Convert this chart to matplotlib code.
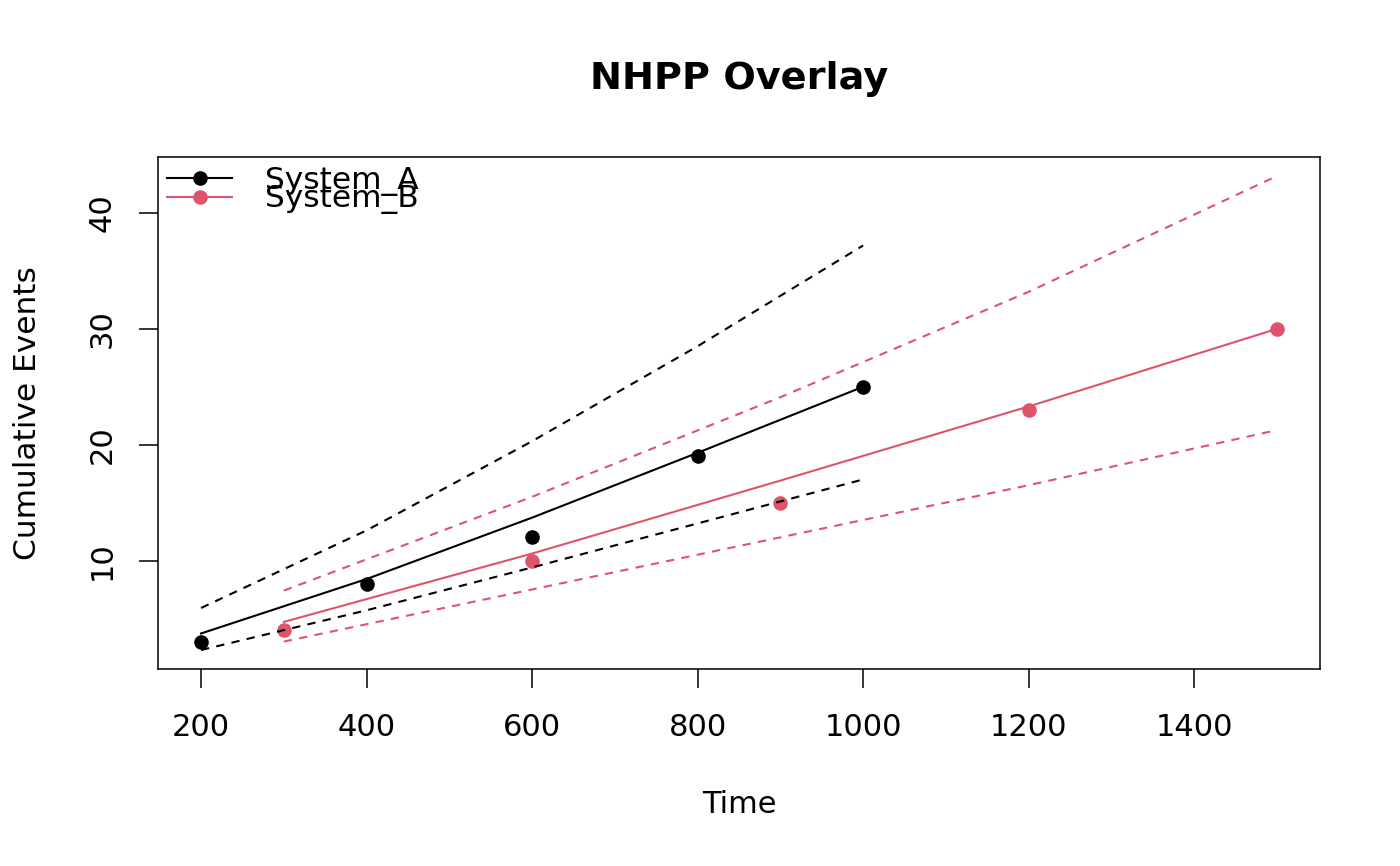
import matplotlib
matplotlib.use('Agg')
import matplotlib.pyplot as plt

# cumulative events observed per system, with NHPP fit and bounds
time_a = [200, 400, 600, 800, 1000]
events_a = [3, 8, 12, 19, 25]
fit_a = [3.7, 8.4, 13.7, 19.3, 25.0]
upper_a = [5.9, 12.6, 20.3, 28.5, 37.2]
lower_a = [2.27, 5.7, 9.4, 13.2, 17.0]

time_b = [300, 600, 900, 1200, 1500]
events_b = [4, 10, 15, 23, 30]
fit_b = [4.7, 10.6, 16.9, 23.3, 30.0]
upper_b = [7.4, 15.5, 24.1, 33.2, 43.2]
lower_b = [3.0, 7.5, 12.0, 16.5, 21.26]

labels = ['System_A', 'System_B']
colors = ['black', '#DF536B']

plt.rcParams['font.family'] = ['DejaVu Sans']

fig = plt.figure(figsize=(14, 8.66), dpi=100)
ax = fig.add_axes([158 / 1400, 1 - 669 / 866, 1162 / 1400, 512 / 866])

systems = [
    (time_a, events_a, fit_a, upper_a, lower_a),
    (time_b, events_b, fit_b, upper_b, lower_b),
]

# points first, then the fitted curves and bounds on top
for (t, ev, _, _, _), col in zip(systems, colors):
    ax.plot(t, ev, 'o', color=col, ms=10.5, mec='none', zorder=2)

handles = []
for (t, ev, fit, up, lo), col, lab in zip(systems, colors, labels):
    ax.plot(t, fit, '-', color=col, lw=1.5, zorder=3)
    ax.plot(t, up, '--', color=col, lw=1.5, dashes=(4, 3.5), zorder=3)
    ax.plot(t, lo, '--', color=col, lw=1.5, dashes=(4, 3.5), zorder=3)
    h, = ax.plot([], [], '-o', color=col, lw=1.5, ms=10.5, mec='none', label=lab)
    handles.append(h)

ax.margins(x=0.04, y=0.04)
ax.set_xticks([200, 400, 600, 800, 1000, 1200, 1400])
ax.set_yticks([10, 20, 30, 40])

for sp in ax.spines.values():
    sp.set_linewidth(1.1)
ax.tick_params(direction='out', length=14, width=1.1, labelsize=22)
ax.tick_params(axis='x', pad=18)
ax.tick_params(axis='y', pad=16)
for lbl in ax.get_yticklabels():
    lbl.set_rotation(90)
    lbl.set_va('center')

ax.set_xlabel('Time', fontsize=22)
ax.xaxis.set_label_coords(0.5, (669 - 790) / 512)
ax.set_ylabel('Cumulative Events', fontsize=22.5)
ax.yaxis.set_label_coords((42 - 158) / 1162, 0.5)

ax.set_title('NHPP Overlay', fontsize=27.5, fontweight='bold', pad=49)

ax.legend(handles=handles, loc='upper left', bbox_to_anchor=(0, 1),
          frameon=False, handlelength=2.08, handletextpad=1.05,
          borderaxespad=0, borderpad=0.29, labelspacing=-0.37,
          prop={'size': 22.5})

fig.savefig('out.png', dpi=100)
